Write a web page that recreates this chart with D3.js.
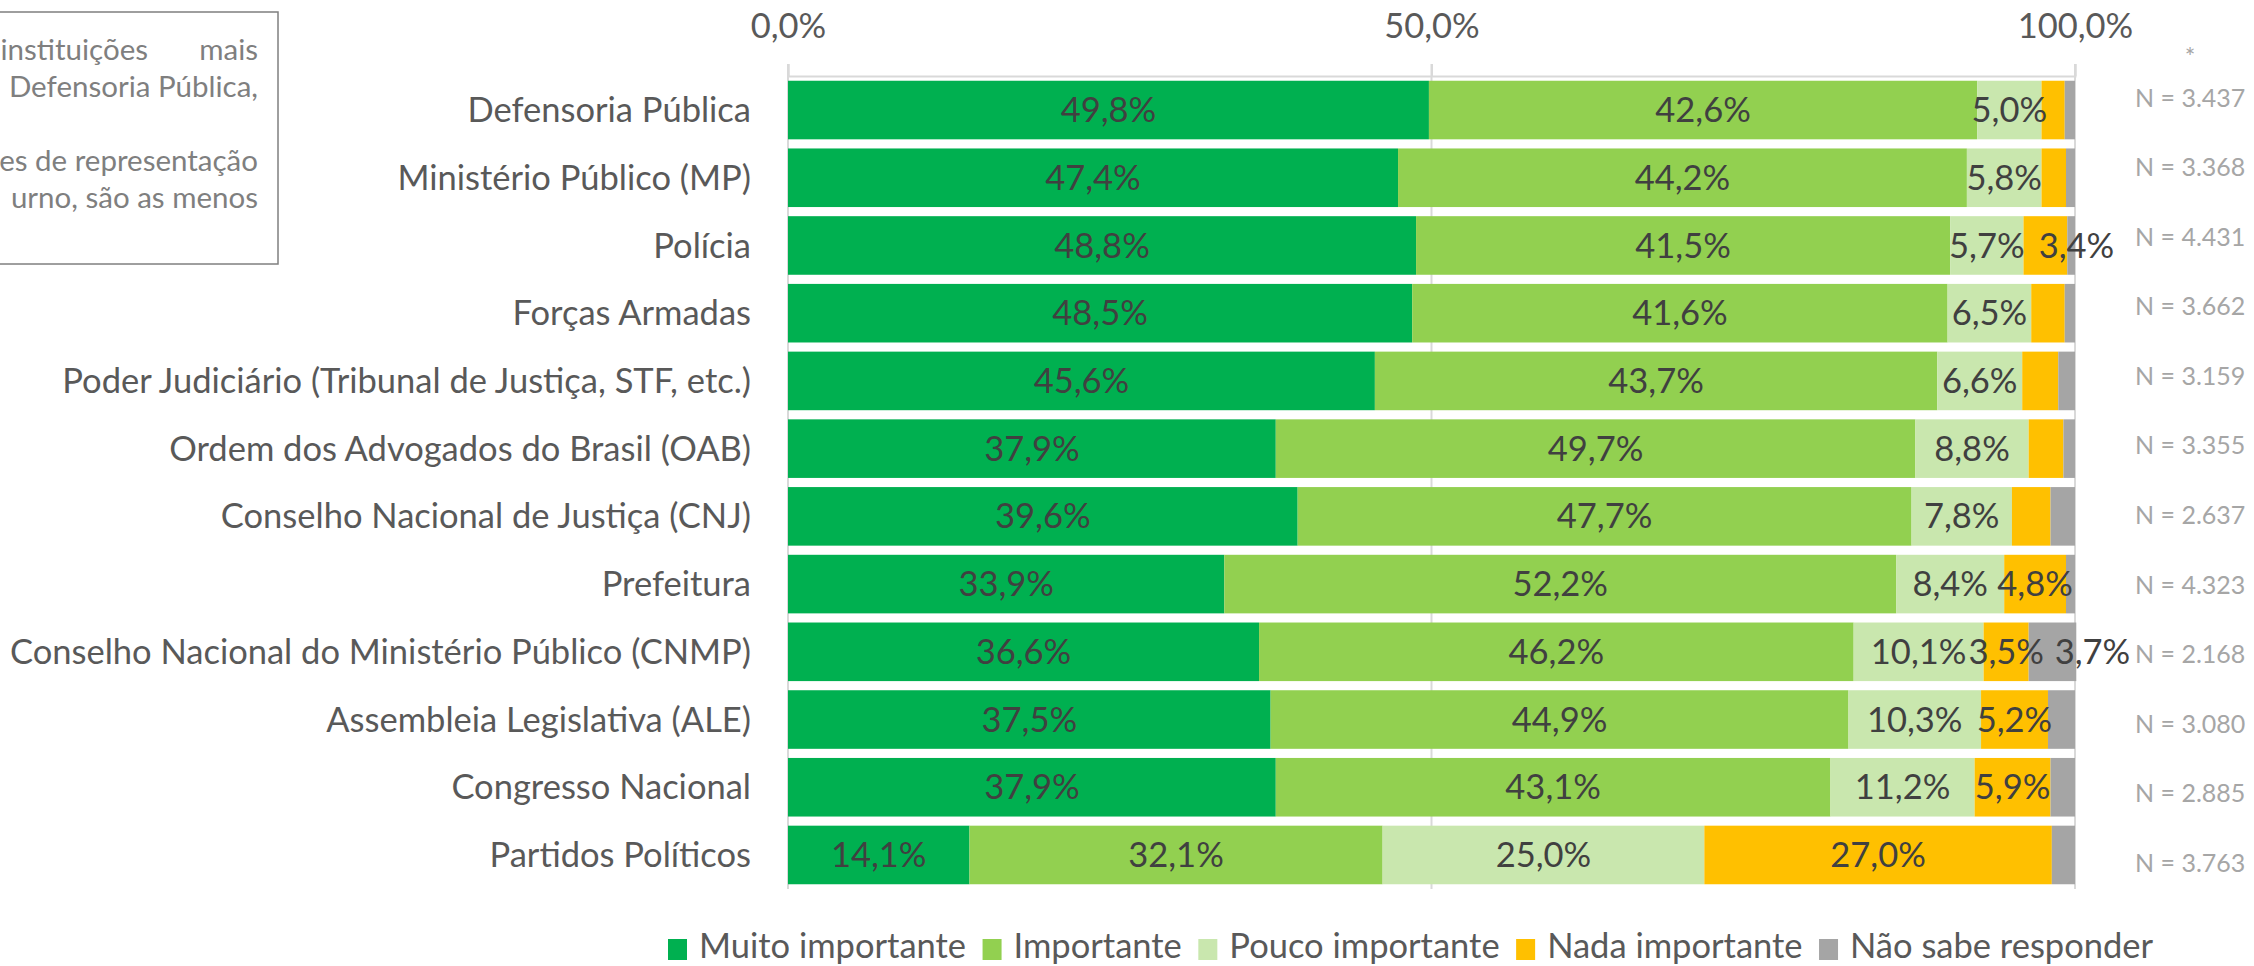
<!DOCTYPE html>
<html><head><meta charset="utf-8">
<script src="https://cdn.jsdelivr.net/npm/d3@7"></script>
<style>
html,body{margin:0;padding:0;background:#fff;overflow:hidden}
text{font-family:Lato,"Open Sans",sans-serif}
</style></head>
<body><svg id="chart" width="2254" height="966"></svg>
<script>
const categories = ["Defensoria Pública","Ministério Público (MP)","Polícia","Forças Armadas","Poder Judiciário (Tribunal de Justiça, STF, etc.)","Ordem dos Advogados do Brasil (OAB)","Conselho Nacional de Justiça (CNJ)","Prefeitura","Conselho Nacional do Ministério Público (CNMP)","Assembleia Legislativa (ALE)","Congresso Nacional","Partidos Políticos"];
const seriesNames = ["Muito importante","Importante","Pouco importante","Nada importante","Não sabe responder"];
const muitoImportante = [49.8,47.4,48.8,48.5,45.6,37.9,39.6,33.9,36.6,37.5,37.9,14.1];
const importante      = [42.6,44.2,41.5,41.6,43.7,49.7,47.7,52.2,46.2,44.9,43.1,32.1];
const poucoImportante = [5.0,5.8,5.7,6.5,6.6,8.8,7.8,8.4,10.1,10.3,11.2,25.0];
const nadaImportante  = [1.8,1.9,3.4,2.6,2.8,2.7,3.0,4.8,3.5,5.2,5.9,27.0];
const naoSabe         = [0.8,0.7,0.6,0.8,1.3,0.9,1.9,0.7,3.7,2.1,1.9,1.8];
const nLabels = ["N = 3.437","N = 3.368","N = 4.431","N = 3.662","N = 3.159","N = 3.355","N = 2.637","N = 4.323","N = 2.168","N = 3.080","N = 2.885","N = 3.763"];
const tickValues = [0,50,100];
const noteLines = [["instituições","mais"],["Defensoria Pública,"],[],["es de representação"],["urno, são as menos"]];

const colors = ["#00B050","#92D050","#C9E7AE","#FFC000","#A5A5A5"];
const seriesValues = [muitoImportante,importante,poucoImportante,nadaImportante,naoSabe];
const labelNudge = {"2|3":31,"8|4":40};
const fmt = v => d3.format(".1f")(v).replace(".",",") + "%";
const FS = "34.5px";

const svg = d3.select("#chart");
const x = d3.scaleLinear().domain([0,100]).range([788,2075]);
const y = d3.scaleBand().domain(categories).range([76,889]).paddingInner(0.135).paddingOuter(0.07);

// gridlines
svg.append("g").selectAll("line").data(tickValues).join("line")
  .attr("x1",d=>x(d)).attr("x2",d=>x(d)).attr("y1",64).attr("y2",889)
  .attr("stroke","#D9D9D9").attr("stroke-width",2);
// top axis
const ax = svg.append("g").attr("transform","translate(0,76)")
  .call(d3.axisTop(x).tickValues(tickValues).tickFormat(fmt).tickSize(12).tickPadding(26));
ax.select(".domain").attr("stroke","#D9D9D9").attr("stroke-width",2);
ax.selectAll(".tick line").attr("stroke","#D9D9D9").attr("stroke-width",2);
ax.selectAll(".tick text").attr("fill","#595959").style("font-size",FS).style("font-family","Lato");

// stacked data
const rows = categories.map((c,i)=>{
  let acc = 0;
  return seriesValues.map((s,k)=>{ const seg={cat:c,i,k,v:s[i],x0:acc,x1:acc+s[i]}; acc+=s[i]; return seg; });
});
const seg = svg.append("g").selectAll("g").data(rows).join("g");
seg.selectAll("rect").data(d=>d).join("rect")
  .attr("x",d=>x(d.x0)).attr("width",d=>x(d.x1)-x(d.x0))
  .attr("y",d=>y(d.cat)).attr("height",y.bandwidth())
  .attr("fill",d=>colors[d.k]);
seg.selectAll("text").data(d=>d.filter(s=>s.v>3)).join("text")
  .attr("x",d=>(x(d.x0)+x(d.x1))/2 + (labelNudge[d.i+"|"+d.k]||0))
  .attr("y",d=>y(d.cat)+y.bandwidth()/2)
  .attr("dy","0.35em").attr("text-anchor","middle")
  .attr("fill","#404040").style("font-size",FS)
  .text(d=>fmt(d.v));

// category labels
svg.append("g").selectAll("text").data(categories).join("text")
  .attr("x",751).attr("y",d=>y(d)+y.bandwidth()/2).attr("dy","0.35em")
  .attr("text-anchor","end").attr("fill","#595959").style("font-size",FS)
  .text(d=>d);

// N labels
const ny = d3.scalePoint().domain(categories).range([98,863]);
svg.append("g").selectAll("text").data(nLabels).join("text")
  .attr("x",2135).attr("y",(d,i)=>ny(categories[i])).attr("dy","0.35em")
  .attr("fill","#A6A6A6").style("font-size","25px").text(d=>d);
svg.append("text").attr("x",2190).attr("y",57).attr("dy","0.35em").attr("text-anchor","middle")
  .attr("fill","#A6A6A6").style("font-size","25px").text("*");

// note box
svg.append("rect").attr("x",-10).attr("y",12).attr("width",288).attr("height",252)
  .attr("fill","none").attr("stroke","#7F7F7F").attr("stroke-width",1.5);
const noteG = svg.append("g");
const NFS = "29.5px";
noteLines.forEach((ln,li)=>{
  const yy = 50 + li*37;
  if(ln.length===2){
    noteG.append("text").attr("x",148).attr("y",yy).attr("dy","0.35em").attr("text-anchor","end")
      .attr("fill","#7F7F7F").style("font-size",NFS).text(ln[0]);
    noteG.append("text").attr("x",258).attr("y",yy).attr("dy","0.35em").attr("text-anchor","end")
      .attr("fill","#7F7F7F").style("font-size",NFS).text(ln[1]);
  } else if(ln.length===1){
    noteG.append("text").attr("x",258).attr("y",yy).attr("dy","0.35em").attr("text-anchor","end")
      .attr("fill","#7F7F7F").style("font-size",NFS).text(ln[0]);
  }
});

// legend
const lg = svg.append("g");
let lx = 668;
seriesNames.forEach((n,k)=>{
  lg.append("rect").attr("x",lx).attr("y",939).attr("width",19).attr("height",21).attr("fill",colors[k]);
  const t = lg.append("text").attr("x",lx+31).attr("y",958)
    .attr("fill","#595959").style("font-size",FS).text(n);
  lx += 31 + t.node().getComputedTextLength() + 16.5;
});
</script></body></html>
